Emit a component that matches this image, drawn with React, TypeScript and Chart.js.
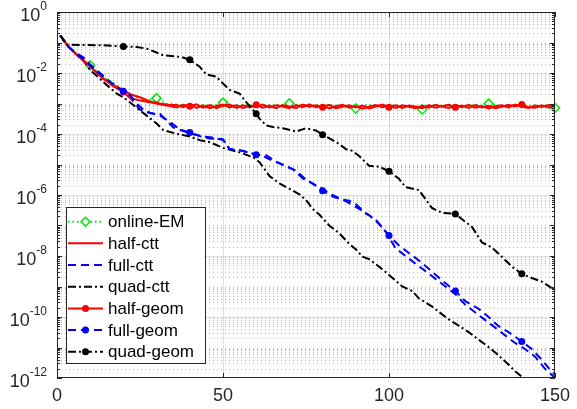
import React, { useEffect, useRef } from 'react';
import { Chart, registerables } from 'chart.js';

Chart.register(...registerables);

const FONT = '"Liberation Sans", Arial, Helvetica, sans-serif';
const AXIS_COLOR = '#262626';

const seriesNames = ['online-EM', 'half-ctt', 'full-ctt', 'quad-ctt', 'half-geom', 'full-geom', 'quad-geom'];
const xTickValues = [0, 50, 100, 150];
const yLabelExponents = [0, -2, -4, -6, -8, -10, -12];

// iterations of the noisy plateau (shared by online-EM and the half-* runs)
const plateauIters = [36, 38, 40, 42, 44, 46, 48, 50, 52, 54, 56, 58, 60, 62, 64, 66, 68, 70, 72, 74, 76, 78, 80, 82, 84, 86, 88, 90, 92, 94, 96, 98, 100, 102, 104, 106, 108, 110, 112, 114, 116, 118, 120, 122, 124, 126, 128, 130, 132, 134, 136, 138, 140, 142, 144, 146, 148, 150];

// online-EM
const onlineEmEarlyX = [1, 3, 6, 10, 12, 15, 18, 21, 24, 27, 30, 33];
const onlineEmEarlyY = [1.7e-1, 8.5e-2, 4.0e-2, 1.8e-2, 1.1e-2, 6.3e-3, 4.0e-3, 2.4e-3, 1.6e-3, 1.3e-3, 1.5e-3, 1.0e-3];
const onlineEmPlateauY = [9.2e-4, 8.6e-4, 9.0e-4, 8.4e-4, 8.9e-4, 8.7e-4, 9.1e-4, 10.7e-4, 8.8e-4, 8.5e-4, 9.0e-4, 8.6e-4, 8.9e-4, 8.4e-4, 8.8e-4, 9.1e-4, 8.7e-4, 10.2e-4, 8.6e-4, 8.9e-4, 8.3e-4, 8.8e-4, 8.5e-4, 8.9e-4, 8.6e-4, 8.2e-4, 8.4e-4, 6.9e-4, 8.5e-4, 8.8e-4, 8.4e-4, 8.7e-4, 8.3e-4, 8.8e-4, 8.5e-4, 8.2e-4, 8.0e-4, 6.4e-4, 8.3e-4, 8.7e-4, 8.4e-4, 8.8e-4, 8.5e-4, 8.2e-4, 8.6e-4, 8.9e-4, 8.5e-4, 9.9e-4, 8.6e-4, 8.3e-4, 8.7e-4, 8.5e-4, 8.8e-4, 8.4e-4, 8.7e-4, 8.3e-4, 8.6e-4, 7.1e-4];

// half-ctt
const halfCttEarlyX = [1, 3, 6, 9, 12, 14, 17, 20, 22, 25, 28, 31, 34];
const halfCttEarlyY = [1.7e-1, 8.3e-2, 4.0e-2, 2.1e-2, 1.0e-2, 6.3e-3, 4.0e-3, 2.8e-3, 2.0e-3, 1.6e-3, 1.17e-3, 1.0e-3, 8.9e-4];
const halfCttPlateauY = [8.9e-4, 7.6e-4, 9.4e-4, 7.2e-4, 8.6e-4, 7.0e-4, 8.3e-4, 9.3e-4, 7.5e-4, 8.8e-4, 7.1e-4, 8.5e-4, 7.7e-4, 9.2e-4, 7.4e-4, 8.7e-4, 8.0e-4, 7.0e-4, 8.9e-4, 7.6e-4, 9.4e-4, 7.5e-4, 8.4e-4, 6.9e-4, 8.2e-4, 9.0e-4, 7.3e-4, 8.1e-4, 6.8e-4, 7.9e-4, 8.9e-4, 7.6e-4, 8.5e-4, 7.1e-4, 8.7e-4, 7.8e-4, 7.0e-4, 8.4e-4, 7.3e-4, 9.0e-4, 7.9e-4, 7.2e-4, 8.6e-4, 7.5e-4, 9.1e-4, 7.3e-4, 8.3e-4, 6.9e-4, 8.1e-4, 8.8e-4, 7.4e-4, 9.2e-4, 8.0e-4, 7.2e-4, 8.6e-4, 7.7e-4, 8.9e-4, 8.2e-4];

// half-geom
const halfGeomEarlyX = [1, 3, 6, 9, 12, 14, 17, 20, 22, 25, 28, 31, 34];
const halfGeomEarlyY = [1.7e-1, 8.5e-2, 3.8e-2, 2.0e-2, 1.05e-2, 6.6e-3, 3.6e-3, 2.4e-3, 1.5e-3, 1.26e-3, 1.1e-3, 9.5e-4, 8.3e-4];
const halfGeomPlateauY = [7.4e-4, 9.0e-4, 8.1e-4, 9.4e-4, 7.3e-4, 8.8e-4, 7.0e-4, 8.6e-4, 9.3e-4, 7.2e-4, 8.7e-4, 7.6e-4, 9.1e-4, 7.3e-4, 8.5e-4, 7.0e-4, 8.9e-4, 8.0e-4, 7.2e-4, 9.2e-4, 7.9e-4, 8.8e-4, 7.5e-4, 9.0e-4, 7.0e-4, 7.8e-4, 8.8e-4, 7.4e-4, 8.6e-4, 6.9e-4, 8.0e-4, 9.2e-4, 7.6e-4, 8.7e-4, 7.1e-4, 8.6e-4, 7.9e-4, 7.0e-4, 8.8e-4, 7.3e-4, 8.2e-4, 9.1e-4, 7.5e-4, 8.6e-4, 7.1e-4, 8.8e-4, 7.4e-4, 8.4e-4, 7.0e-4, 7.8e-4, 9.0e-4, 8.0e-4, 9.3e-4, 7.6e-4, 7.2e-4, 8.7e-4, 7.4e-4, 8.1e-4];

// full-ctt
const fullCttX = [1, 3, 5, 8, 10, 13, 16, 19, 22, 25, 28, 31, 33, 35, 38, 41, 44, 47, 50, 52, 55, 58, 62, 65, 68, 71, 74, 77, 80, 83, 86, 88, 90, 93, 96, 99, 102, 105, 108, 111, 114, 117, 120, 123, 126, 129, 132, 135, 138, 141, 144, 147, 150];
const fullCttY = [1.7e-1, 8.3e-2, 5.2e-2, 3.2e-2, 1.9e-2, 1.0e-2, 5.0e-3, 2.8e-3, 1.6e-3, 6.3e-4, 4.8e-4, 4.5e-4, 2.8e-4, 1.66e-4, 1.26e-4, 1.0e-4, 8.3e-5, 7.6e-5, 6.3e-5, 3.2e-5, 3.0e-5, 2.4e-5, 1.9e-5, 1.32e-5, 1.0e-5, 7.1e-6, 3.5e-6, 2.4e-6, 1.58e-6, 1.0e-6, 7.1e-7, 6.5e-7, 5.0e-7, 2.5e-7, 1.58e-7, 6.3e-8, 1.78e-8, 1.0e-8, 5.6e-9, 3.2e-9, 1.78e-9, 1.0e-9, 5.6e-10, 2.5e-10, 1.41e-10, 7.9e-11, 4.5e-11, 2.5e-11, 1.41e-11, 8.9e-12, 5.0e-12, 2.0e-12, 1.0e-12];

// full-geom
const fullGeomX = [1, 3, 5, 8, 10, 12, 15, 18, 20, 22, 24, 26, 28, 31, 34, 37, 40, 43, 46, 50, 52, 56, 60, 63, 66, 69, 72, 75, 78, 80, 83, 87, 89, 91, 94, 97, 100, 103, 106, 109, 112, 116, 120, 123, 127, 130, 133, 136, 140, 143, 146, 148, 150];
const fullGeomY = [1.7e-1, 7.9e-2, 5.0e-2, 2.8e-2, 1.78e-2, 1.12e-2, 6.3e-3, 3.5e-3, 2.5e-3, 1.9e-3, 1.0e-3, 6.3e-4, 5.0e-4, 4.0e-4, 2.5e-4, 1.4e-4, 1.12e-4, 8.5e-5, 7.1e-5, 6.8e-5, 3.2e-5, 2.75e-5, 2.1e-5, 2.0e-5, 1.26e-5, 8.5e-6, 6.3e-6, 3.2e-6, 2.0e-6, 1.38e-6, 8.9e-7, 6.3e-7, 4.7e-7, 3.5e-7, 2.2e-7, 1.12e-7, 4.7e-8, 2.2e-8, 1.26e-8, 7.1e-9, 3.8e-9, 1.58e-9, 7.1e-10, 3.3e-10, 1.86e-10, 1.0e-10, 5.0e-11, 3.2e-11, 1.58e-11, 8.9e-12, 4.0e-12, 2.2e-12, 1.26e-12];

// quad-ctt
const quadCttX = [1, 3, 5, 8, 10, 13, 16, 18, 20, 23, 27, 30, 32, 36, 40, 43, 46, 50, 55, 59, 61, 64, 67, 70, 73, 75, 77, 79, 82, 85, 88, 90, 92, 94, 97, 100, 104, 107, 109, 113, 115, 118, 121, 124, 127, 129, 132, 135, 138, 141, 145, 150];
const quadCttY = [1.7e-1, 8.5e-2, 5.0e-2, 2.5e-2, 1.26e-2, 6.3e-3, 3.2e-3, 2.1e-3, 1.6e-3, 8.9e-4, 4.0e-4, 2.2e-4, 1.35e-4, 1.02e-4, 8.3e-5, 6.3e-5, 5.4e-5, 3.5e-5, 2.5e-5, 1.74e-5, 1.2e-5, 4.2e-6, 2.4e-6, 1.6e-6, 1.05e-6, 6.9e-7, 3.5e-7, 2.3e-7, 1.0e-7, 5.6e-8, 2.5e-8, 1.66e-8, 9.5e-9, 7.9e-9, 4.5e-9, 2.4e-9, 1.0e-9, 7.1e-10, 4.1e-10, 2.2e-10, 1.48e-10, 8.3e-11, 5.2e-11, 3.2e-11, 1.8e-11, 1.26e-11, 6.9e-12, 3.5e-12, 1.66e-12, 8.9e-13, 4.0e-13, 1.6e-13];

// quad-geom
const quadGeomX = [1, 3, 8, 14, 20, 24, 27, 30, 32, 36, 38, 40, 43, 45, 48, 50, 52, 55, 57, 60, 61, 63, 65, 68, 72, 75, 78, 80, 83, 85, 87, 89, 91, 94, 97, 100, 103, 105, 109, 113, 116, 120, 125, 128, 131, 134, 137, 140, 143, 146, 150];
const quadGeomY = [1.7e-1, 8.5e-2, 8.3e-2, 8.1e-2, 7.4e-2, 7.1e-2, 6.3e-2, 4.7e-2, 3.8e-2, 3.5e-2, 3.2e-2, 2.7e-2, 1.6e-2, 8.9e-3, 7.6e-3, 4.5e-3, 2.8e-3, 2.1e-3, 1.1e-3, 4.6e-4, 3.2e-4, 1.9e-4, 1.7e-4, 1.55e-4, 1.2e-4, 1.55e-4, 1.3e-4, 9.5e-5, 6.3e-5, 4.7e-5, 3.2e-5, 2.8e-5, 1.9e-5, 9.1e-6, 8.5e-6, 6.0e-6, 3.4e-6, 1.8e-6, 1.45e-6, 3.7e-7, 2.6e-7, 2.4e-7, 8.9e-8, 2.8e-8, 1.9e-8, 9.5e-9, 4.5e-9, 2.6e-9, 1.9e-9, 1.45e-9, 7.6e-10];

type Pt = { x: number; y: number };
const toPoints = (xs: number[], ys: number[]): Pt[] => xs.map((x, i) => ({ x, y: ys[i] }));

type Marker = 'none' | 'dot' | 'diamond';
interface Style { color: string; dash: number[]; marker: Marker; every: number; offset: number }

const DOTTED = [1.5, 3];
const DASHED = [8, 5];
const DASHDOT = [8, 3, 2, 3];

const styles: Style[] = [
  { color: '#00e600', dash: DOTTED, marker: 'diamond', every: 20, offset: 10 },
  { color: '#ff0000', dash: [], marker: 'none', every: 20, offset: 0 },
  { color: '#0000ff', dash: DASHED, marker: 'none', every: 20, offset: 0 },
  { color: '#000000', dash: DASHDOT, marker: 'none', every: 20, offset: 0 },
  { color: '#ff0000', dash: [], marker: 'dot', every: 20, offset: 0 },
  { color: '#0000ff', dash: DASHED, marker: 'dot', every: 20, offset: 0 },
  { color: '#000000', dash: DASHDOT, marker: 'dot', every: 20, offset: 0 },
];

function drawMarker(ctx: CanvasRenderingContext2D, m: Marker, color: string, cx: number, cy: number) {
  ctx.save();
  ctx.setLineDash([]);
  if (m === 'dot') {
    ctx.fillStyle = color;
    ctx.beginPath();
    ctx.arc(cx, cy, 3.5, 0, Math.PI * 2);
    ctx.fill();
  } else if (m === 'diamond') {
    const r = 4.5;
    ctx.fillStyle = '#ffffff';
    ctx.strokeStyle = color;
    ctx.lineWidth = 1.5;
    ctx.beginPath();
    ctx.moveTo(cx, cy - r);
    ctx.lineTo(cx + r, cy);
    ctx.lineTo(cx, cy + r);
    ctx.lineTo(cx - r, cy);
    ctx.closePath();
    ctx.fill();
    ctx.stroke();
  }
  ctx.restore();
}

const matlabLook = {
  id: 'matlabLook',
  beforeDatasetsDraw(chart: any) {
    const { ctx, chartArea: a } = chart;
    const xs = chart.scales.x;
    const ys = chart.scales.y;
    ctx.save();
    ctx.lineWidth = 1;
    // minor grid (dotted)
    ctx.strokeStyle = 'rgba(38,38,38,0.32)';
    ctx.setLineDash([1, 3]);
    for (let k = -12; k < 0; k++) {
      for (let m = 1; m <= 9; m++) {
        if (m === 1 && k % 2 === 0) continue;
        const py = Math.round(ys.getPixelForValue(m * Math.pow(10, k))) + 0.5;
        ctx.beginPath();
        ctx.moveTo(a.left, py);
        ctx.lineTo(a.right, py);
        ctx.stroke();
      }
    }
    // major grid (solid)
    ctx.setLineDash([]);
    ctx.strokeStyle = 'rgba(38,38,38,0.15)';
    for (const e of yLabelExponents) {
      if (e === 0 || e === -12) continue;
      const py = Math.round(ys.getPixelForValue(Math.pow(10, e))) + 0.5;
      ctx.beginPath();
      ctx.moveTo(a.left, py);
      ctx.lineTo(a.right, py);
      ctx.stroke();
    }
    for (const v of xTickValues) {
      if (v === 0 || v === 150) continue;
      const px = Math.round(xs.getPixelForValue(v)) + 0.5;
      ctx.beginPath();
      ctx.moveTo(px, a.top);
      ctx.lineTo(px, a.bottom);
      ctx.stroke();
    }
    ctx.restore();
  },
  afterDatasetsDraw(chart: any) {
    const { ctx, chartArea: a } = chart;
    const xs = chart.scales.x;
    const ys = chart.scales.y;
    ctx.save();
    ctx.setLineDash([]);
    ctx.strokeStyle = AXIS_COLOR;
    ctx.lineWidth = 1;
    ctx.strokeRect(a.left + 0.5, a.top + 0.5, a.right - a.left - 1, a.bottom - a.top - 1);
    // y ticks left & right
    for (let k = -12; k <= 0; k++) {
      for (let m = 1; m <= 9; m++) {
        if (k === 0 && m > 1) break;
        const len = m === 1 ? 5 : 3;
        const py = Math.round(ys.getPixelForValue(m * Math.pow(10, k))) + 0.5;
        ctx.beginPath();
        ctx.moveTo(a.left, py);
        ctx.lineTo(a.left + len, py);
        ctx.moveTo(a.right, py);
        ctx.lineTo(a.right - len, py);
        ctx.stroke();
      }
    }
    // x ticks bottom & top
    for (const v of xTickValues) {
      const px = Math.round(xs.getPixelForValue(v)) + 0.5;
      ctx.beginPath();
      ctx.moveTo(px, a.bottom);
      ctx.lineTo(px, a.bottom - 5);
      ctx.moveTo(px, a.top);
      ctx.lineTo(px, a.top + 5);
      ctx.stroke();
    }
    ctx.restore();
  },
  afterDraw(chart: any) {
    const { ctx, chartArea: a } = chart;
    const ys = chart.scales.y;
    ctx.save();
    // y tick labels: 10^e
    ctx.fillStyle = AXIS_COLOR;
    ctx.textBaseline = 'alphabetic';
    const right = a.left - 10;
    for (const e of yLabelExponents) {
      const py = ys.getPixelForValue(Math.pow(10, e));
      const expStr = String(e);
      ctx.font = `12px ${FONT}`;
      const we = ctx.measureText(expStr).width;
      ctx.textAlign = 'left';
      ctx.fillText(expStr, right - we, py - 2);
      ctx.font = `18px ${FONT}`;
      ctx.textAlign = 'right';
      ctx.fillText('10', right - we, py + 9);
    }
    // legend
    const boxL = a.left + 9;
    const boxT = 207;
    const boxW = 140;
    const boxH = 157;
    const rowH = 21.67;
    ctx.fillStyle = '#ffffff';
    ctx.fillRect(boxL, boxT, boxW, boxH);
    ctx.strokeStyle = AXIS_COLOR;
    ctx.lineWidth = 1;
    ctx.setLineDash([]);
    ctx.strokeRect(boxL + 0.5, boxT + 0.5, boxW - 1, boxH - 1);
    seriesNames.forEach((name, i) => {
      const st = styles[i];
      const cy = boxT + 14.7 + i * rowH;
      ctx.save();
      ctx.strokeStyle = st.color;
      ctx.lineWidth = 2;
      ctx.setLineDash(st.dash);
      ctx.beginPath();
      ctx.moveTo(boxL + 2, cy);
      ctx.lineTo(boxL + 37, cy);
      ctx.stroke();
      ctx.restore();
      drawMarker(ctx, st.marker, st.color, boxL + 19.5, cy);
      ctx.fillStyle = '#000000';
      ctx.font = `17px ${FONT}`;
      ctx.textAlign = 'left';
      ctx.textBaseline = 'middle';
      ctx.fillText(name, boxL + 42, cy + 1);
    });
    ctx.restore();
  },
};

export default function App() {
  const ref = useRef<HTMLCanvasElement | null>(null);
  useEffect(() => {
    document.body.style.margin = '0';
    const canvas = ref.current;
    if (!canvas) return;
    const seriesData: Pt[][] = [
      toPoints([...onlineEmEarlyX, ...plateauIters], [...onlineEmEarlyY, ...onlineEmPlateauY]),
      toPoints([...halfCttEarlyX, ...plateauIters], [...halfCttEarlyY, ...halfCttPlateauY]),
      toPoints(fullCttX, fullCttY),
      toPoints(quadCttX, quadCttY),
      toPoints([...halfGeomEarlyX, ...plateauIters], [...halfGeomEarlyY, ...halfGeomPlateauY]),
      toPoints(fullGeomX, fullGeomY),
      toPoints(quadGeomX, quadGeomY),
    ];
    const datasets = seriesData.map((data, i) => {
      const st = styles[i];
      const hasMarker = st.marker !== 'none';
      return {
        label: seriesNames[i],
        data,
        borderColor: st.color,
        backgroundColor: st.color,
        borderWidth: 2,
        borderDash: st.dash,
        tension: 0,
        order: 7 - i,
        clip: { left: 0, top: 0, right: 6, bottom: 0 },
        pointStyle: st.marker === 'diamond' ? 'rectRot' : 'circle',
        pointRadius: (c: any) => {
          const r = c.raw as Pt | undefined;
          if (!hasMarker || !r) return 0;
          const hit = r.x % st.every === st.offset;
          return hit ? (st.marker === 'diamond' ? 4.5 : 3.5) : 0;
        },
        pointBackgroundColor: st.marker === 'diamond' ? '#ffffff' : st.color,
        pointBorderColor: st.color,
        pointBorderWidth: st.marker === 'diamond' ? 1.5 : 0,
        pointHoverRadius: 0,
      };
    });
    const chart = new Chart(canvas, {
      type: 'line',
      data: { datasets } as any,
      options: {
        responsive: false,
        animation: false,
        devicePixelRatio: 1,
        events: [],
        layout: { padding: { left: 0, right: 22, top: 12, bottom: 0 } },
        plugins: { legend: { display: false }, tooltip: { enabled: false } },
        scales: {
          x: {
            type: 'linear',
            min: 0,
            max: 150,
            ticks: {
              stepSize: 50,
              color: AXIS_COLOR,
              font: { family: FONT, size: 18 },
              padding: 7,
              maxRotation: 0,
              autoSkip: false,
            },
            grid: { display: false, drawTicks: false },
            border: { display: false },
            afterFit: (s: any) => {
              s.height = 31;
              s.paddingLeft = 0;
              s.paddingRight = 0;
            },
          },
          y: {
            type: 'logarithmic',
            min: 1e-12,
            max: 1,
            ticks: { display: false },
            grid: { display: false, drawTicks: false },
            border: { display: false },
            afterFit: (s: any) => {
              s.width = 57;
            },
          },
        },
      } as any,
      plugins: [matlabLook],
    });
    return () => chart.destroy();
  }, []);
  return <canvas ref={ref} width={577} height={409} style={{ display: 'block' }} />;
}
